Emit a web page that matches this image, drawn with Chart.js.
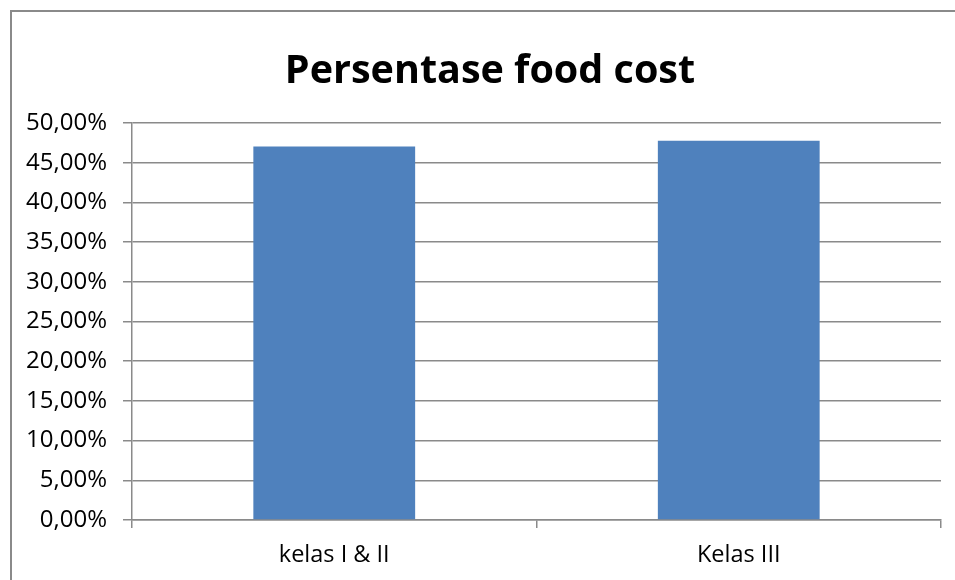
<!DOCTYPE html>
<html>
<head>
<meta charset="utf-8">
<script src="https://cdn.jsdelivr.net/npm/chart.js@4/dist/chart.umd.min.js"></script>
<style>
  html, body { margin: 0; padding: 0; background: #ffffff; }
  #wrap { width: 955px; height: 580px; position: relative; }
</style>
</head>
<body>
<div id="wrap"><canvas id="c" width="955" height="580"></canvas></div>
<script>
const chartTitle = "Persentase food cost";
const categories = ["kelas I & II", "Kelas III"];
const foodCostPct = [47.05, 47.77];
const yMin = 0;
const yMax = 50;
const yStep = 5;

const frame = {
  id: 'frame',
  beforeDraw(chart) {
    const ctx = chart.ctx;
    ctx.save();
    ctx.fillStyle = '#ffffff';
    ctx.fillRect(0, 0, chart.width, chart.height);
    ctx.strokeStyle = '#8a8a8a';
    ctx.lineWidth = 2;
    ctx.strokeRect(11, 11, chart.width + 20, chart.height + 20);
    ctx.restore();
  },
  afterDraw(chart, args, opts) {
    const ctx = chart.ctx;
    ctx.save();
    ctx.fillStyle = '#000000';
    ctx.font = "bold 39.5px 'Open Sans', 'Noto Sans', sans-serif";
    ctx.textAlign = 'center';
    ctx.textBaseline = 'alphabetic';
    ctx.fillText(opts.text, 490, 83);
    ctx.restore();
  }
};

const labelFont = { family: "'Open Sans', 'Noto Sans', sans-serif", size: 24 };

new Chart(document.getElementById('c'), {
  type: 'bar',
  data: {
    labels: categories,
    datasets: [{
      data: foodCostPct,
      backgroundColor: '#4F81BD',
      borderWidth: 0,
      barPercentage: 0.4,
      categoryPercentage: 1.0
    }]
  },
  options: {
    responsive: false,
    animation: false,
    devicePixelRatio: 1,
    layout: { padding: { left: 0, right: 14, top: 123, bottom: 0 } },
    plugins: {
      legend: { display: false },
      tooltip: { enabled: false },
      title: { display: false },
      frame: { text: chartTitle }
    },
    scales: {
      x: {
        offset: true,
        grid: {
          offset: true,
          drawOnChartArea: false,
          drawTicks: true,
          tickLength: 8,
          color: '#8a8a8a',
          lineWidth: 1.5
        },
        border: { display: true, color: '#8a8a8a', width: 1.5 },
        ticks: { color: '#000000', font: { family: labelFont.family, size: 23.5 }, padding: 13 },
        afterFit(s) { s.height = 60; }
      },
      y: {
        min: yMin,
        max: yMax,
        ticks: {
          stepSize: yStep,
          color: '#000000',
          font: labelFont,
          padding: 16,
          callback: (v) => v.toFixed(2).replace('.', ',') + '%'
        },
        grid: {
          color: '#8a8a8a',
          lineWidth: 1.5,
          drawTicks: true,
          tickLength: 9
        },
        border: { display: true, color: '#8a8a8a', width: 1.5 },
        afterFit(s) { s.width = 132; }
      }
    }
  },
  plugins: [frame]
});
</script>
</body>
</html>
